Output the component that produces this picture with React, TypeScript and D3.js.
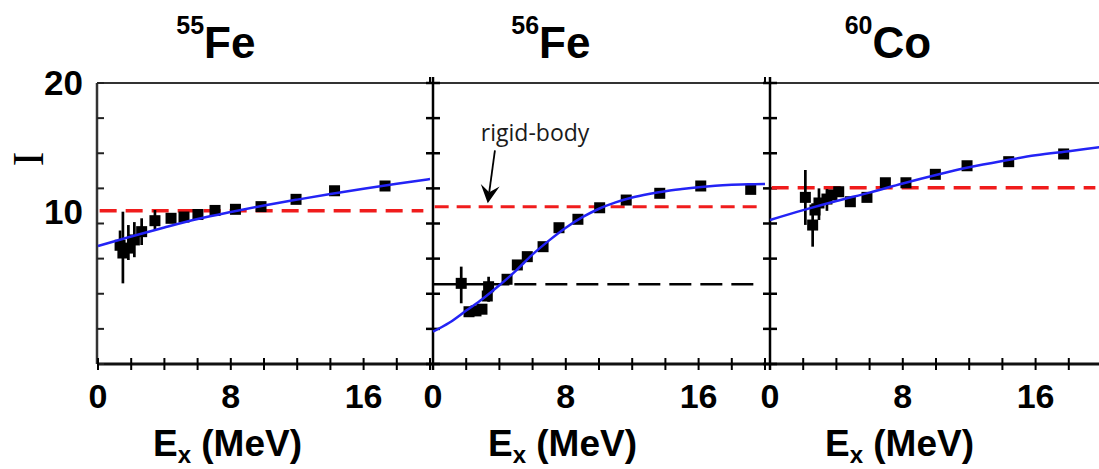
import React from "react";
import * as d3 from "d3";

// ---------- data ----------
const titleMass = ["55", "56", "60"];
const titleElement = ["Fe", "Fe", "Co"];
const xTickValues = [0, 2, 4, 6, 8, 10, 12, 14, 16, 18, 20];
const xTickLabels = [0, 8, 16];
const yTickValues = [0, 2.5, 5, 7.5, 10, 12.5, 15, 17.5, 20];
const yTickLabels = [20, 10];
const rigidBody = [10.91, 11.2, 12.55];
const fe56Reference = 5.67;
const fe56ReferenceSolidEnd = 4.6;

// [Ex (MeV), I, errLow, errHigh]
const fe55Points: number[][] = [
  [1.33, 8.45, 7.6, 9.5],
  [1.5, 7.9, 5.74, 10.84],
  [1.83, 8.25, 7.4, 9.89],
  [2.19, 8.83, 7.6, 10.1],
  [2.63, 9.42, 8.47, 10.37],
  [3.43, 10.2, 9.54, 10.96],
  [4.4, 10.37],
  [5.18, 10.46],
  [6.02, 10.64],
  [7.05, 10.93],
  [8.28, 11.01],
  [9.82, 11.2],
  [11.93, 11.72],
  [14.25, 12.33],
  [17.29, 12.67],
];
const fe56Points: number[][] = [
  [1.7, 5.74, 4.32, 6.93],
  [2.17, 3.72],
  [2.59, 3.78],
  [2.95, 3.9],
  [3.27, 4.84],
  [3.35, 5.5, 4.43, 6.21],
  [4.46, 6.03],
  [5.08, 7.05],
  [5.68, 7.64],
  [6.63, 8.35],
  [7.59, 9.7],
  [8.73, 10.3],
  [10.04, 11.12],
  [11.64, 11.67],
  [13.66, 12.15],
  [16.13, 12.67],
  [19.14, 12.43],
];
const co60Points: number[][] = [
  [2.13, 11.86, 9.9, 13.81],
  [2.57, 9.89, 8.35, 11.44],
  [2.71, 10.96],
  [2.95, 11.46, 10.25, 12.5],
  [3.43, 11.74, 10.9, 12.45],
  [3.73, 12.03],
  [4.14, 12.26, 11.9, 12.6],
  [4.84, 11.55],
  [5.84, 11.86],
  [6.95, 12.9],
  [8.19, 12.9],
  [9.96, 13.5],
  [11.87, 14.11],
  [14.38, 14.4],
  [17.69, 14.95],
];

const fe55FitEx = [0, 2, 4, 6, 8, 10, 12, 14, 16, 18, 20];
const fe55FitI = [8.4, 9.08, 9.72, 10.32, 10.82, 11.28, 11.7, 12.1, 12.48, 12.83, 13.16];
const fe56FitEx = [0, 1, 2, 3, 4, 5, 6, 7, 8, 9, 10, 11, 12, 13, 14, 15, 16, 17, 18, 19, 20];
const fe56FitI = [2.3, 2.95, 3.8, 4.65, 5.6, 6.65, 7.8, 8.8, 9.7, 10.45, 11.05, 11.5, 11.85, 12.1, 12.3, 12.45, 12.58, 12.68, 12.75, 12.8, 12.82];
const co60FitEx = [0, 2, 4, 6, 8, 10, 12, 14, 16, 18, 20];
const co60FitI = [10.25, 10.95, 11.6, 12.2, 12.85, 13.45, 14.0, 14.45, 14.85, 15.15, 15.45];

const annotationText = "rigid-body";
const annotationTextPos = [6.15, 15.9];
const annotationArrowTail = [3.73, 15.2];
const annotationArrowTip = [3.3, 11.45];

// ---------- layout ----------
const W = 1099;
const H = 469;
const panelLeft = [98, 433, 770];
const panelWidth = 332;
const yTop = 83;
const yBottom = 364;
const FONT = "'Liberation Sans', Arial, Helvetica, sans-serif";

const BLUE = "#2323f5";
const RED = "#f01c1c";

const y = d3.scaleLinear().domain([0, 20]).range([yBottom, yTop]);

const panelPoints = [fe55Points, fe56Points, co60Points];
const panelFitEx = [fe55FitEx, fe56FitEx, co60FitEx];
const panelFitI = [fe55FitI, fe56FitI, co60FitI];
const redDash = ["17,9", "14,8", "17,9"];
const redWidth = [3.5, 3, 3.5];

export default function App() {
  const xs = panelLeft.map((l) =>
    d3.scaleLinear().domain([0, 20]).range([l, l + panelWidth])
  );
  const sq = 11;

  const arrow = (() => {
    const x = xs[1];
    const tx = x(annotationArrowTail[0]);
    const ty = y(annotationArrowTail[1]);
    const px = x(annotationArrowTip[0]);
    const py = y(annotationArrowTip[1]);
    const dx = px - tx;
    const dy = py - ty;
    const len = Math.hypot(dx, dy);
    const ux = dx / len;
    const uy = dy / len;
    const nx = -uy;
    const ny = ux;
    const hl = 18;
    const hw = 9.5;
    const notch = 11;
    const head = [
      [px, py],
      [px - ux * hl + nx * hw, py - uy * hl + ny * hw],
      [px - ux * notch, py - uy * notch],
      [px - ux * hl - nx * hw, py - uy * hl - ny * hw],
    ];
    return { tx, ty, bx: px - ux * notch, by: py - uy * notch, head };
  })();

  return (
    <svg
      width={W}
      height={H}
      viewBox={`0 0 ${W} ${H}`}
      style={{ position: "absolute", left: 0, top: 0, display: "block", background: "#fff" }}
    >
      <rect x={0} y={0} width={W} height={H} fill="#fff" />

      {/* frame */}
      <line x1={97} x2={W} y1={yTop} y2={yTop} stroke="#333" strokeWidth={2} />
      <line x1={97} x2={W} y1={yBottom} y2={yBottom} stroke="#111" strokeWidth={2.8} />
      <line x1={97} x2={97} y1={yTop} y2={yBottom} stroke="#333" strokeWidth={2.5} />

      {/* panel 1 inward y ticks */}
      {yTickValues.map((v) => (
        <line key={"t1" + v} x1={97} x2={104} y1={y(v)} y2={y(v)} stroke="#222" strokeWidth={2} />
      ))}

      {/* panel 2 & 3 axes with crossing ticks */}
      {[1, 2].map((p) => (
        <g key={"ax" + p}>
          <line x1={xs[p](0)} x2={xs[p](0)} y1={yTop - 6} y2={yBottom + 6} stroke="#000" strokeWidth={2.5} />
          {yTickValues.map((v) => (
            <line key={v} x1={xs[p](0) - 7} x2={xs[p](0) + 7} y1={y(v)} y2={y(v)} stroke="#000" strokeWidth={2.5} />
          ))}
        </g>
      ))}

      {/* top stubs at panel right edges */}
      {[0, 1].map((p) => (
        <line key={"stub" + p} x1={xs[p](20)} x2={xs[p](20)} y1={yTop - 6} y2={yTop} stroke="#000" strokeWidth={2} />
      ))}

      {/* bottom ticks */}
      {xs.map((x, p) =>
        xTickValues
          .filter((v) => x(v) <= W)
          .map((v) => (
            <line key={"bt" + p + "-" + v} x1={x(v)} x2={x(v)} y1={yBottom - 6} y2={yBottom + 6} stroke="#000" strokeWidth={2} />
          ))
      )}

      {/* x tick labels */}
      {xs.map((x, p) =>
        xTickLabels.map((v) => (
          <text key={"xl" + p + v} x={x(v)} y={408} textAnchor="middle" fontFamily={FONT} fontWeight="bold" fontSize={34} fill="#000">
            {v}
          </text>
        ))
      )}

      {/* x axis titles */}
      {xs.map((x, p) => (
        <text key={"xt" + p} x={x(7.8)} y={456} textAnchor="middle" fontFamily={FONT} fontWeight="bold" fontSize={37} fill="#000" style={{ whiteSpace: "pre" }}>
          <tspan>E</tspan>
          <tspan fontSize={24} dy={7}>x</tspan>
          <tspan dy={-7}>{" (MeV)"}</tspan>
        </text>
      ))}

      {/* y tick labels */}
      {yTickLabels.map((v) => (
        <text key={"yl" + v} x={83} y={y(v) + (v === 20 ? 12 : 0)} textAnchor="end" fontFamily={FONT} fontWeight="bold" fontSize={35} fill="#000">
          {v}
        </text>
      ))}

      {/* y axis title */}
      <text transform="translate(43,159) rotate(-90)" textAnchor="middle" fontFamily="'Liberation Serif', 'DejaVu Serif', serif" fontSize={44} fill="#000">
        I
      </text>

      {/* titles */}
      {xs.map((x, p) => (
        <text key={"ti" + p} x={x(7.1)} y={58} textAnchor="middle" fontFamily={FONT} fontWeight="bold" fill="#000">
          <tspan fontSize={25} dy={-24}>{titleMass[p]}</tspan>
          <tspan fontSize={44} dy={24}>{titleElement[p]}</tspan>
        </text>
      ))}

      {/* reference lines */}
      {xs.map((x, p) => (
        <line key={"rb" + p} x1={x(0.1)} x2={x(19.6)} y1={y(rigidBody[p])} y2={y(rigidBody[p])} stroke={RED} strokeWidth={redWidth[p]} strokeDasharray={redDash[p]} />
      ))}
      <line x1={xs[1](0)} x2={xs[1](fe56ReferenceSolidEnd)} y1={y(fe56Reference)} y2={y(fe56Reference)} stroke="#000" strokeWidth={2.5} />
      <line x1={xs[1](fe56ReferenceSolidEnd + 0.3)} x2={xs[1](19.6)} y1={y(fe56Reference)} y2={y(fe56Reference)} stroke="#000" strokeWidth={2.5} strokeDasharray="22,9" />

      {/* data */}
      {xs.map((x, p) => (
        <g key={"pts" + p}>
          {panelPoints[p].map((d, i) =>
            d.length > 2 ? (
              <line key={"e" + i} x1={x(d[0])} x2={x(d[0])} y1={y(d[2])} y2={y(d[3])} stroke="#000" strokeWidth={2.7} />
            ) : null
          )}
          {panelPoints[p].map((d, i) => (
            <rect key={"s" + i} x={x(d[0]) - sq / 2} y={y(d[1]) - sq / 2} width={sq} height={sq} fill="#000" />
          ))}
        </g>
      ))}

      {/* fits */}
      {xs.map((x, p) => {
        const line = d3
          .line<number>()
          .x((_, i) => x(panelFitEx[p][i]))
          .y((v) => y(v))
          .curve(d3.curveMonotoneX);
        return <path key={"fit" + p} d={line(panelFitI[p]) || ""} fill="none" stroke={BLUE} strokeWidth={2.5} />;
      })}

      {/* annotation */}
      <text x={xs[1](annotationTextPos[0])} y={y(annotationTextPos[1])} textAnchor="middle" fontFamily="'Open Sans', 'Noto Sans', sans-serif" fontSize={23} fill="#1a1a1a">
        {annotationText}
      </text>
      <line x1={arrow.tx} y1={arrow.ty} x2={arrow.bx} y2={arrow.by} stroke="#000" strokeWidth={1.8} />
      <polygon points={arrow.head.map((q) => q.join(",")).join(" ")} fill="#000" />
    </svg>
  );
}
